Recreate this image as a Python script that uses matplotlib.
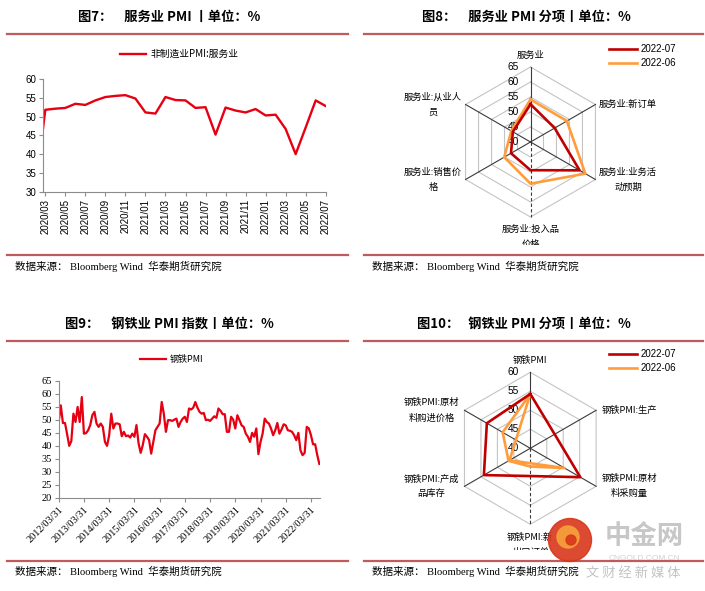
import numpy as np
import matplotlib
matplotlib.use('Agg')
import matplotlib.pyplot as plt
from matplotlib.patches import Circle

# fonts
CJK = ['Noto Sans CJK SC', 'DejaVu Sans']
SANS = ['Liberation Sans', 'Noto Sans CJK SC']
SERIF = ['Liberation Serif', 'Noto Sans CJK SC']
matplotlib.rcParams['font.family'] = SANS
matplotlib.rcParams['axes.unicode_minus'] = False

W, H = 705, 591
RED = '#E60012'
DARKRED = '#C00000'
ORANGE = '#FF9D3C'
RULE = '#BF5B5B'
AXGRAY = '#8C8C8C'

# ---- data: services PMI (2020/02 .. 2022/07) ----
serv_pmi = [30.1, 51.8, 52.1, 52.3, 53.4, 53.1, 54.3, 55.2, 55.5, 55.7, 54.8,
            51.1, 50.8, 55.2, 54.4, 54.3, 52.3, 52.5, 45.2, 52.4, 51.6, 51.1, 52.0,
            50.3, 50.5, 46.7, 40.0, 47.1, 54.3, 52.8]
serv_ticks = ['2020/03', '2020/05', '2020/07', '2020/09', '2020/11', '2021/01',
              '2021/03', '2021/05', '2021/07', '2021/09', '2021/11', '2022/01',
              '2022/03', '2022/05', '2022/07']

# ---- data: services PMI sub-items radar ----
serv_cats = [['服务业'], ['服务业:新订单'], ['服务业:业务活', '动预期'],
             ['服务业:投入品', '价格'], ['服务业:销售价', '格'], ['服务业:从业人', '员']]
serv_jul = [52.6, 49.3, 58.9, 49.4, 47.5, 46.8]
serv_jun = [54.2, 54.0, 61.1, 53.9, 50.1, 47.4]

# ---- data: steel PMI monthly (2012/03 .. 2022/07) ----
steel_pmi = [49.3, 55.6, 48.8, 48.8, 44.5, 40.0, 41.8, 52.4, 49.2, 55.0, 49.2, 58.8,
             44.7, 44.9, 46.0, 48.0, 51.8, 53.1, 48.6, 47.3, 48.6, 47.3, 41.5, 40.0,
             44.0, 52.4, 46.7, 48.6, 48.6, 48.3, 43.7, 45.4, 43.7, 44.0, 43.2, 44.7,
             43.5, 48.0, 40.9, 37.3, 40.3, 44.5, 43.5, 42.2, 37.0, 41.5, 46.0, 47.3,
             48.6, 56.9, 52.4, 45.4, 49.9, 49.9, 49.6, 50.1, 50.5, 47.3, 49.2, 50.5,
             51.2, 49.2, 54.4, 54.0, 54.7, 56.9, 54.7, 53.1, 52.4, 52.7, 49.9, 50.1,
             49.6, 50.5, 51.4, 50.8, 54.4, 53.5, 52.2, 52.2, 45.4, 45.4, 51.2, 50.1,
             46.7, 51.8, 49.9, 47.9, 47.3, 44.7, 43.5, 41.5, 45.0, 43.5, 46.7, 36.8,
             41.5, 44.7, 50.5, 49.2, 48.6, 46.7, 44.1, 46.0, 48.8, 44.7, 46.3, 48.3,
             47.9, 46.0, 45.8, 45.4, 44.1, 42.2, 45.0, 38.3, 36.4, 37.3, 47.3, 46.7,
             44.1, 40.6, 40.6, 36.4, 33.0]
steel_ticks = ['2012/03/31', '2013/03/31', '2014/03/31', '2015/03/31', '2016/03/31',
               '2017/03/31', '2018/03/31', '2019/03/31', '2020/03/31', '2021/03/31',
               '2022/03/31']

# ---- data: steel PMI sub-items radar ----
steel_cats = [['钢铁PMI'], ['钢铁PMI:生产'], ['钢铁PMI:原材', '料采购量'],
              ['钢铁PMI:新', '出口订单'], ['钢铁PMI:产成', '品库存'],
              ['钢铁PMI:原材', '料购进价格']]
steel_jul = [54.3, 47.4, 55.2, 47.3, 54.1, 53.2]
steel_jun = [54.3, 33.7, 50.4, 44.8, 46.6, 48.4]


def box(x0, y0, x1, y1):
    return [x0 / W, 1 - y1 / H, (x1 - x0) / W, (y1 - y0) / H]


fig = plt.figure(figsize=(W / 100, H / 100), dpi=100)

# background layer: titles, rules, sources
bg = fig.add_axes([0, 0, 1, 1])
bg.set_xlim(0, W)
bg.set_ylim(H, 0)
bg.axis('off')

titles = [(169, 16.7, '图7：    服务业 PMI 丨单位：%'),
          (526, 16.7, '图8：    服务业 PMI 分项丨单位：%'),
          (169, 323.3, '图9：    钢铁业 PMI 指数丨单位：%'),
          (524, 323.3, '图10：   钢铁业 PMI 分项丨单位：%')]
for tx, ty, t in titles:
    bg.text(tx, ty, t, ha='center', va='center', fontsize=9.5,
            fontweight='bold', family=CJK)

for y in [34.3, 255, 341, 560.7]:
    bg.plot([7, 348], [y, y], color=RULE, lw=1.6)
    bg.plot([364, 703], [y, y], color=RULE, lw=1.6)

src = '数据来源： Bloomberg Wind  华泰期货研究院'
for sx, sy in [(15, 266.7), (371.7, 266.7), (15, 571.7), (371.7, 571.7)]:
    bg.text(sx, sy, src, va='center', fontsize=7.6, family=SERIF)

# ---- panel 1: services PMI line ----
ax1 = fig.add_axes(box(43.3, 79, 325.7, 191.7))
ax1.plot(np.arange(len(serv_pmi)), serv_pmi, color=RED, lw=1.7,
         label='非制造业PMI:服务业')
ax1.set_xlim(0.8, len(serv_pmi) - 1)
ax1.set_ylim(30, 60)
ax1.set_yticks(np.arange(30, 61, 5))
ax1.set_xticks(np.arange(1, len(serv_pmi), 2))
ax1.set_xticklabels(serv_ticks, rotation=90)
for s in ['top', 'right']:
    ax1.spines[s].set_visible(False)
for s in ['left', 'bottom']:
    ax1.spines[s].set_color(AXGRAY)
ax1.tick_params(direction='out', length=3, color=AXGRAY, labelsize=7, pad=2)
ax1.legend(loc='center', bbox_to_anchor=(179 / W, 1 - 54.3 / H),
           bbox_transform=fig.transFigure, frameon=False,
           prop=dict(family=CJK, size=7), handlelength=2.7, handletextpad=0.4)

# ---- panel 3: steel PMI line ----
ax3 = fig.add_axes(box(58.7, 381, 320, 497.7))
ax3.plot(np.arange(len(steel_pmi)), steel_pmi, color=RED, lw=1.6, label='钢铁PMI')
ax3.set_xlim(0, len(steel_pmi) - 0.7)
ax3.set_ylim(20, 65)
ax3.set_yticks(np.arange(20, 66, 5))
ax3.set_xticks(np.arange(0, len(steel_pmi), 12))
ax3.set_xticklabels(steel_ticks, rotation=45, ha='right', rotation_mode='anchor')
for s in ['top', 'right']:
    ax3.spines[s].set_visible(False)
for s in ['left', 'bottom']:
    ax3.spines[s].set_color(AXGRAY)
ax3.tick_params(direction='out', length=3, color=AXGRAY, labelsize=7.5, pad=2)
for lab in ax3.get_xticklabels() + ax3.get_yticklabels():
    lab.set_family(SERIF)
ax3.legend(loc='center', bbox_to_anchor=(172 / W, 1 - 359.3 / H),
           bbox_transform=fig.transFigure, frameon=False,
           prop=dict(family=CJK, size=6.5), handlelength=2.9, handletextpad=0.4)


# ---- radar panels ----
def radar(region, cx, cy, R, vmin, vmax, cats, jul, jun, leg_top):
    rx0, ry0, rx1, ry1 = region
    ax = fig.add_axes(box(rx0, ry0, rx1, ry1))
    ax.set_xlim((rx0 - cx) / R, (rx1 - cx) / R)
    ax.set_ylim((cy - ry1) / R, (cy - ry0) / R)
    ax.axis('off')

    ang = np.arange(len(cats)) * 2 * np.pi / len(cats)

    def xy(vals):
        r = (np.asarray(vals, dtype=float) - vmin) / (vmax - vmin)
        x, y = r * np.sin(ang), r * np.cos(ang)
        return np.append(x, x[0]), np.append(y, y[0])

    levels = np.arange(vmin, vmax + 1, 5)
    for v in levels[1:]:
        gx, gy = xy([v] * len(cats))
        ax.plot(gx, gy, color='#C4C4C4', lw=0.8)
    for a in ang:
        ls = (0, (3, 2)) if abs(a - np.pi) < 1e-6 else '-'
        ax.plot([0, np.sin(a)], [0, np.cos(a)], color='#3A3A3A', lw=0.8, ls=ls)
    for v in levels:
        ax.text(-0.15, (v - vmin) / (vmax - vmin), str(v), ha='right',
                va='center', fontsize=7.3)

    jx, jy = xy(jul)
    ox, oy = xy(jun)
    ax.plot(jx, jy, color=DARKRED, lw=1.9, label='2022-07', zorder=4)
    ax.plot(ox, oy, color=ORANGE, lw=1.9, label='2022-06', zorder=3)

    # category labels
    for a, lines in zip(ang, cats):
        s, c = np.sin(a), np.cos(a)
        if abs(s) < 1e-6:
            x0 = 0
            y0 = 1.16 if c > 0 else -1.17
            step = 0.2
            ys = [y0 - i * step for i in range(len(lines))]
        else:
            x0 = 1.30 * np.sign(s)
            yc = 0.5 * np.sign(c)
            step = 0.2
            ys = [yc + step * ((len(lines) - 1) / 2 - i) for i in range(len(lines))]
        for t, yy in zip(lines, ys):
            ax.text(x0, yy, t, ha='center', va='center', fontsize=6.7,
                    family=CJK, clip_on=True)

    ax.legend(loc='upper left', bbox_to_anchor=(609 / W, 1 - leg_top / H),
              bbox_transform=fig.transFigure, frameon=False, fontsize=7,
              handlelength=2.9, handletextpad=0.3, labelspacing=0.45,
              borderpad=0, borderaxespad=0)
    return ax


radar((364, 38, 705, 245), 530.5, 142, 75, 40, 65, serv_cats, serv_jul, serv_jun, 44)
radar((364, 344, 705, 550), 530.3, 448.3, 76, 40, 60, steel_cats, steel_jul, steel_jun, 349)

# ---- watermark ----
wm = fig.add_axes([0, 0, 1, 1])
wm.set_xlim(0, W)
wm.set_ylim(H, 0)
wm.axis('off')
wm.add_patch(Circle((570, 540), 21.5, color='#D8361A', alpha=0.9))
wm.add_patch(Circle((568, 537), 11, color='#F7A23A', alpha=0.9))
wm.add_patch(Circle((571, 540), 5, color='#D8361A', alpha=0.9))
wm.text(644, 537, '中金网', ha='center', va='center', fontsize=19,
        fontweight='bold', color='#BDBDBD', family=CJK, alpha=0.85)
wm.text(644, 558, 'CNGOLD.COM.CN', ha='center', va='center', fontsize=6,
        color='#C8C8C8', alpha=0.85)
wm.text(633, 573, '文 财 经 新 媒 体', ha='center', va='center', fontsize=9.5,
        color='#B8B8B8', family=CJK, alpha=0.85)

fig.savefig('out.png', dpi=100)
